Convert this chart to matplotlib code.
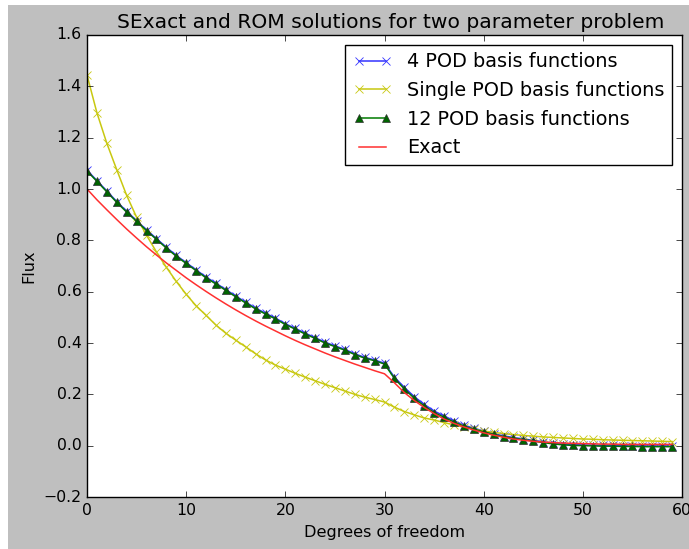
import matplotlib
matplotlib.use("Agg")
import matplotlib.pyplot as plt
from matplotlib.patches import Rectangle

plt.style.use("classic")
plt.rcParams["font.family"] = ["DejaVu Sans"]

dof = list(range(60))

exact = [1.000, 0.958, 0.919, 0.881, 0.844, 0.809, 0.775, 0.743, 0.712, 0.683,
         0.654, 0.627, 0.601, 0.576, 0.552, 0.529, 0.507, 0.486, 0.466, 0.447,
         0.428, 0.410, 0.393, 0.377, 0.361, 0.346, 0.332, 0.318, 0.305, 0.292,
         0.280, 0.245, 0.207, 0.176, 0.149, 0.125, 0.104, 0.087, 0.073, 0.061,
         0.050, 0.041, 0.033, 0.026, 0.021, 0.017, 0.014, 0.012, 0.010, 0.009,
         0.008, 0.007, 0.006, 0.006, 0.005, 0.005, 0.005, 0.005, 0.005, 0.005]

pod12 = [1.070, 1.030, 0.989, 0.948, 0.910, 0.874, 0.838, 0.804, 0.770, 0.738,
         0.710, 0.682, 0.654, 0.630, 0.605, 0.580, 0.556, 0.533, 0.513, 0.494,
         0.472, 0.454, 0.435, 0.418, 0.400, 0.386, 0.372, 0.355, 0.341, 0.331,
         0.318, 0.262, 0.221, 0.185, 0.155, 0.129, 0.111, 0.092, 0.076, 0.064,
         0.054, 0.044, 0.035, 0.029, 0.023, 0.018, 0.012, 0.007, 0.003, 0.001,
         0.000, -0.001, -0.002, -0.002, -0.003, -0.003, -0.004, -0.004, -0.004, -0.004]

pod4 = [1.073, 1.033, 0.992, 0.951, 0.913, 0.877, 0.841, 0.807, 0.773, 0.741,
        0.713, 0.685, 0.657, 0.633, 0.608, 0.583, 0.559, 0.536, 0.516, 0.497,
        0.475, 0.457, 0.438, 0.421, 0.403, 0.389, 0.375, 0.358, 0.344, 0.334,
        0.321, 0.267, 0.227, 0.191, 0.161, 0.135, 0.116, 0.097, 0.080, 0.068,
        0.057, 0.047, 0.038, 0.032, 0.026, 0.021, 0.015, 0.010, 0.006, 0.004,
        0.003, 0.002, 0.001, 0.001, 0.000, 0.000, 0.000, 0.000, 0.000, 0.000]

single = [1.444, 1.297, 1.178, 1.075, 0.975, 0.890, 0.820, 0.755, 0.695, 0.640,
          0.590, 0.545, 0.508, 0.470, 0.438, 0.411, 0.385, 0.358, 0.334, 0.314,
          0.298, 0.282, 0.267, 0.253, 0.239, 0.226, 0.213, 0.200, 0.189, 0.180,
          0.170, 0.150, 0.133, 0.120, 0.108, 0.100, 0.090, 0.081, 0.072, 0.064,
          0.057, 0.052, 0.047, 0.043, 0.040, 0.037, 0.034, 0.032, 0.030, 0.028,
          0.026, 0.025, 0.023, 0.022, 0.021, 0.020, 0.019, 0.018, 0.017, 0.016]

labels = ["4 POD basis functions", "Single POD basis functions",
          "12 POD basis functions", "Exact"]

W, H = 689, 549
fig = plt.figure(figsize=(W / 100, H / 100), dpi=100, facecolor="white")
# grey figure area (screenshot has a thin white margin on left and top)
fig.add_artist(Rectangle((8 / W, 0), 1 - 8 / W, (H - 5) / H,
                         transform=fig.transFigure, facecolor="#bfbfbf",
                         edgecolor="none", zorder=-10))

ax = fig.add_axes([87 / W, (H - 497) / H, 595 / W, 462 / H])
ax.plot(dof, pod4, "x-", color="#3333ff", lw=1.1, ms=6, mew=0.6, label=labels[0])
ax.plot(dof, single, "x-", color="#c8c810", lw=1.1, ms=6, mew=0.6, label=labels[1])
ax.plot(dof, pod12, "^-", color="#007a00", lw=1.1, ms=6, mfc="#006400",
        mec="#303030", mew=0.5, label=labels[2])
ax.plot(dof, exact, "-", color="#ff3030", lw=1.1, label=labels[3])

ax.set_xlim(0, 60)
ax.set_ylim(-0.2, 1.6)
ax.set_xticks(range(0, 61, 10))
ax.set_yticks([-0.2, 0.0, 0.2, 0.4, 0.6, 0.8, 1.0, 1.2, 1.4, 1.6])
ax.tick_params(labelsize=11.3)
ax.set_title("SExact and ROM solutions for two parameter problem",
             fontsize=14.6, x=0.51)
ax.set_xlabel("Degrees of freedom", fontsize=11.6)
ax.set_ylabel("Flux", fontsize=11.6)
ax.legend(loc="upper right", fontsize=13.9, numpoints=2)

fig.savefig("out.png", dpi=100, facecolor=fig.get_facecolor())
